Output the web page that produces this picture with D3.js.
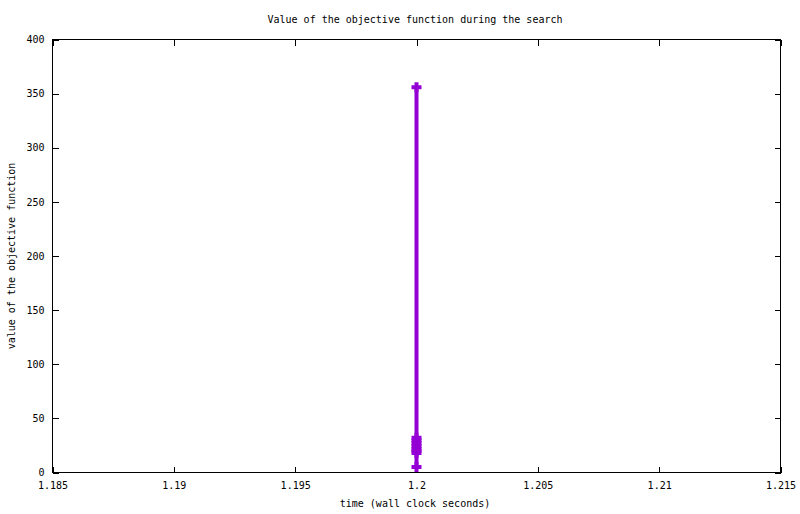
<!DOCTYPE html>
<meta charset="utf-8">
<head>
  <style>
    body { margin: 0; background: #fff; }
    svg { display: block; }
    text {
      font-family: "DejaVu Sans Mono", monospace;
      font-size: 10px;
      fill: #000;
    }
    .frame { fill: none; stroke: #000; stroke-width: 1px; shape-rendering: crispEdges; }
    .tick line { stroke: #000; shape-rendering: crispEdges; }
    .series { fill: none; stroke: #9400d3; stroke-width: 4px; }
    .mark { stroke: #9400d3; stroke-width: 4px; fill: none; }
  </style>
  <script src="https://cdn.jsdelivr.net/npm/d3@7"></script>
</head>
<body>
  <script>
    // search samples: wall clock time vs objective value
    var times  = [1.2, 1.2, 1.2, 1.2, 1.2, 1.2, 1.2, 1.2, 1.2];
    var values = [356, 32, 29.5, 27, 24.5, 22, 20, 18, 5];

    var xTicks = [1.185, 1.19, 1.195, 1.2, 1.205, 1.21, 1.215];
    var yTicks = [0, 50, 100, 150, 200, 250, 300, 350, 400];

    var width = 800, height = 514
      , margin = {top: 39.5, right: 19.5, bottom: 41.5, left: 52.5}
      , iw = width - margin.left - margin.right
      , ih = height - margin.top - margin.bottom;

    var svg = d3.select("body").append("svg")
        .attr("width", width)
        .attr("height", height);

    var x = d3.scaleLinear().domain([1.185, 1.215]).range([0, iw]);
    var y = d3.scaleLinear().domain([0, 400]).range([ih, 0]);

    var g = svg.append("g")
        .attr("transform", "translate(" + margin.left + "," + margin.top + ")");

    // ticks, gnuplot style: inward and mirrored
    var tk = 6;
    var fmt = function(d) { return String(+d.toFixed(3)); };

    g.append("g").attr("transform", "translate(0," + ih + ")")
      .call(d3.axisBottom(x).tickValues(xTicks).tickFormat(fmt).tickSizeInner(-tk).tickSizeOuter(0).tickPadding(9.5))
      .call(function(a) { a.select(".domain").remove(); a.selectAll("text").attr("font-family", null).attr("font-size", null); });
    g.append("g")
      .call(d3.axisTop(x).tickValues(xTicks).tickFormat("").tickSizeInner(-tk).tickSizeOuter(0))
      .call(function(a) { a.select(".domain").remove(); });
    g.append("g")
      .call(d3.axisLeft(y).tickValues(yTicks).tickFormat(d3.format("d")).tickSizeInner(-tk).tickSizeOuter(0).tickPadding(8))
      .call(function(a) { a.select(".domain").remove(); a.selectAll("text").attr("font-family", null).attr("font-size", null); });
    g.append("g").attr("transform", "translate(" + iw + ",0)")
      .call(d3.axisRight(y).tickValues(yTicks).tickFormat("").tickSizeInner(-tk).tickSizeOuter(0))
      .call(function(a) { a.select(".domain").remove(); });

    var pts = times.map(function(t, i) { return [t, values[i]]; });

    var line = d3.line()
        .x(function(d) { return x(d[0]); })
        .y(function(d) { return y(d[1]); });

    g.append("path").datum(pts).attr("class", "series").attr("d", line);

    // plus markers
    var s = 5;
    g.selectAll(".mark").data(pts).enter().append("path")
      .attr("class", "mark")
      .attr("d", function(d) {
        var cx = x(d[0]), cy = y(d[1]);
        return "M" + (cx - s) + "," + cy + "H" + (cx + s) + "M" + cx + "," + (cy - s) + "V" + (cy + s);
      });

    g.append("rect").attr("class", "frame")
      .attr("width", iw).attr("height", ih);

    svg.append("text")
      .attr("x", 415).attr("y", 23)
      .attr("text-anchor", "middle")
      .text("Value of the objective function during the search");

    svg.append("text")
      .attr("x", 415).attr("y", 507)
      .attr("text-anchor", "middle")
      .text("time (wall clock seconds)");

    svg.append("text")
      .attr("transform", "translate(15," + (margin.top + ih / 2) + ") rotate(-90)")
      .attr("text-anchor", "middle")
      .text("value of the objective function");
  </script>
</body>
